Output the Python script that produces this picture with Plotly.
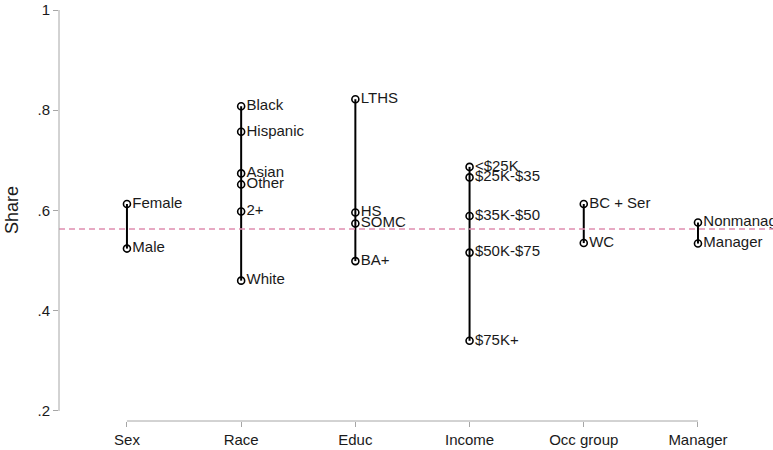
import plotly.graph_objects as go

# ---- data ----
groups = ["Sex", "Race", "Educ", "Income", "Occ group", "Manager"]
sex_labels = ["Female", "Male"]
sex_values = [0.613, 0.524]
race_labels = ["Black", "Hispanic", "Asian", "Other", "2+", "White"]
race_values = [0.808, 0.757, 0.674, 0.652, 0.598, 0.460]
educ_labels = ["LTHS", "HS", "SOMC", "BA+"]
educ_values = [0.822, 0.596, 0.574, 0.499]
income_labels = ["<$25K", "$25K-$35", "$35K-$50", "$50K-$75", "$75K+"]
income_values = [0.687, 0.666, 0.589, 0.516, 0.340]
occ_labels = ["BC + Ser", "WC"]
occ_values = [0.613, 0.535]
mgr_labels = ["Nonmanag", "Manager"]
mgr_values = [0.576, 0.534]
overall_share = 0.563

y_tickvals = [0.2, 0.4, 0.6, 0.8, 1.0]
y_ticktext = [".2", ".4", ".6", ".8", "1"]

# ---- build ----
all_labels = [sex_labels, race_labels, educ_labels, income_labels, occ_labels, mgr_labels]
all_values = [sex_values, race_values, educ_values, income_values, occ_values, mgr_values]

FONT = "Liberation Sans, Arial, Helvetica, sans-serif"
TXT = "#1a1a1a"
AXC = "#a6a6a6"

fig = go.Figure()

# vertical range lines
lx, ly = [], []
for i, vals in enumerate(all_values):
    lx += [i, i, None]
    ly += [min(vals), max(vals), None]
fig.add_trace(go.Scatter(x=lx, y=ly, mode="lines",
                         line=dict(color="black", width=2),
                         hoverinfo="skip", showlegend=False))

# points with labels
px, py, pt = [], [], []
for i, (labs, vals) in enumerate(zip(all_labels, all_values)):
    px += [i] * len(vals)
    py += vals
    pt += labs
fig.add_trace(go.Scatter(x=px, y=py, text=pt, mode="markers+text",
                         textposition="middle right",
                         textfont=dict(family=FONT, size=15, color=TXT),
                         marker=dict(symbol="circle-open", size=7,
                                     color="black", line=dict(width=1.6, color="black")),
                         showlegend=False))

# reference line
fig.add_shape(type="line", xref="paper", x0=0, x1=1, yref="y",
              y0=overall_share, y1=overall_share,
              line=dict(color="#e08db0", width=1.5, dash="6px,4px"))

# axis lines (Stata-style, only between extreme ticks)
fig.add_shape(type="line", xref="paper", x0=0, x1=0, yref="y",
              y0=min(y_tickvals), y1=max(y_tickvals),
              line=dict(color=AXC, width=1))
fig.add_shape(type="line", xref="x", x0=0, x1=len(groups) - 1, yref="paper",
              y0=0, y1=0, line=dict(color=AXC, width=1))

# y title
fig.add_annotation(text="Share", xref="paper", yref="paper",
                   x=-0.066, y=0.513, xanchor="center", yanchor="middle",
                   textangle=-90, showarrow=False,
                   font=dict(family=FONT, size=18, color=TXT))

fig.update_layout(
    width=773, height=450,
    margin=dict(l=59, r=0, t=10, b=29),
    plot_bgcolor="white", paper_bgcolor="white",
    font=dict(family=FONT, size=15, color=TXT),
    xaxis=dict(range=[-0.595, 5.657], tickmode="array",
               tickvals=list(range(len(groups))), ticktext=groups,
               showgrid=False, zeroline=False, showline=False,
               ticks="outside", ticklen=5, tickcolor=AXC, tickwidth=1,
               tickfont=dict(family=FONT, size=15, color=TXT)),
    yaxis=dict(range=[0.18, 1.0], tickmode="array",
               tickvals=y_tickvals, ticktext=y_ticktext,
               showgrid=False, zeroline=False, showline=False,
               ticks="outside", ticklen=5, tickcolor=AXC, tickwidth=1,
               tickfont=dict(family=FONT, size=15, color=TXT)),
)

fig.write_html("out.html",
               config={"displayModeBar": False},
               post_script="document.body.style.margin='0';document.body.style.overflow='hidden';")
